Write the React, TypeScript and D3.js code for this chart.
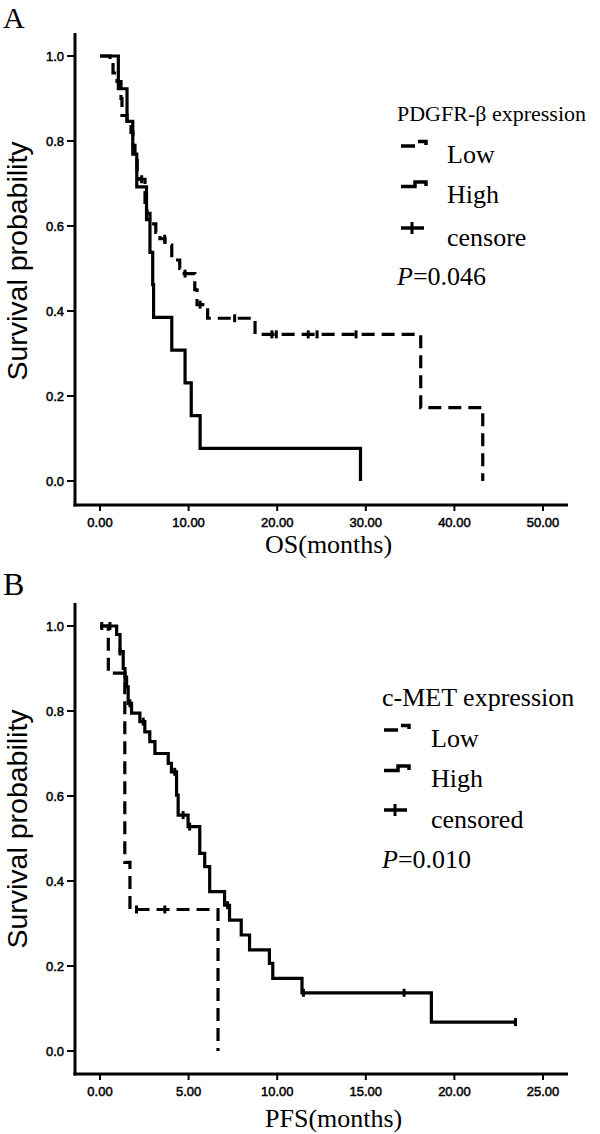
import React from "react";
import * as d3 from "d3";

// ---------- DATA ----------
const xTicksA = [0, 10, 20, 30, 40, 50];
const xTicksB = [0, 5, 10, 15, 20, 25];
const yTicks = [0, 0.2, 0.4, 0.6, 0.8, 1.0];

// Panel A: OS by PDGFR-β expression. [time (months), survival after event]
const osLowSteps: [number, number][] = [
  [0, 1], [1.13, 0.98], [1.47, 0.96], [1.92, 0.94], [2.37, 0.9], [2.48, 0.86],
  [3.05, 0.84], [3.5, 0.82], [3.72, 0.79], [3.95, 0.77], [4.2, 0.73], [4.4, 0.71],
  [5.08, 0.65], [5.3, 0.63], [5.64, 0.605], [6.3, 0.585], [6.77, 0.57], [7.34, 0.555],
  [8.1, 0.52], [9.0, 0.5], [9.5, 0.488], [10.7, 0.45], [10.95, 0.415], [12.15, 0.383],
  [17.5, 0.345], [36.2, 0.1725], [43.2, 0],
];
const osLowCensored = [4.7, 7.3, 9.6, 11.3, 15.2, 19.4, 19.9, 23.5, 24.5, 28.9];
const osHighSteps: [number, number][] = [
  [0, 1], [2.07, 0.923], [3.05, 0.846], [3.7, 0.769], [4.15, 0.692], [5.25, 0.615],
  [5.64, 0.538], [5.95, 0.462], [6.05, 0.385], [8.1, 0.308], [9.6, 0.231],
  [10.3, 0.154], [11.3, 0.077], [29.4, 0],
];
const osHighCensored: number[] = [];

// Panel B: PFS by c-MET expression
const pfsLowSteps: [number, number][] = [
  [0, 1], [0.47, 0.889], [1.4, 0.444], [1.69, 0.333], [6.66, 0],
];
const pfsLowCensored = [2.06, 3.66];
const pfsHighSteps: [number, number][] = [
  [0, 1], [0.94, 0.98], [1.13, 0.94], [1.31, 0.9], [1.41, 0.88], [1.5, 0.857],
  [1.59, 0.818], [1.78, 0.795], [2.25, 0.775], [2.53, 0.751], [2.81, 0.728],
  [3.1, 0.7], [3.85, 0.677], [4.03, 0.657], [4.32, 0.602], [4.41, 0.555],
  [4.97, 0.528], [5.63, 0.465], [5.91, 0.434], [6.19, 0.375], [7.03, 0.343],
  [7.31, 0.308], [7.97, 0.273], [8.44, 0.238], [9.56, 0.206], [9.75, 0.171],
  [11.4, 0.137], [18.7, 0.068], [23.45, 0.068],
];
const pfsHighCensored = [0.1, 0.56, 1.13, 1.41, 1.69, 2.44, 4.22, 4.69, 5.06, 7.2, 11.48, 17.16, 23.45];

const legendA = { title: "PDGFR-β expression", low: "Low", high: "High", cens: "censore", p: "=0.046" };
const legendB = { title: "c-MET expression", low: "Low", high: "High", cens: "censored", p: "=0.010" };

// ---------- HELPERS ----------
const SANS = "'Liberation Sans', Arial, sans-serif";
const SERIF = "'Liberation Serif', 'Times New Roman', serif";

function survAt(steps: [number, number][], t: number) {
  let s = steps[0][1];
  for (const [tt, ss] of steps) {
    if (tt <= t + 1e-9) s = ss;
    else break;
  }
  return s;
}

type PanelProps = {
  label: string;
  labelY: number;
  labelSize: number;
  top: number;
  y1: number;
  y0: number;
  axisY: number;
  xMax: number;
  xTicks: number[];
  xTitle: string;
  xTitleY: number;
  yTitleY: number;
  low: [number, number][];
  lowC: number[];
  high: [number, number][];
  highC: number[];
  legend: typeof legendA;
  titleSize: number;
  lg: { x: number; tx: number; title: number; low: number; high: number; cens: number; p: number; symX: number };
};

function Panel(p: PanelProps) {
  const x = d3.scaleLinear().domain([0, p.xMax]).range([100, 543]);
  const y = d3.scaleLinear().domain([0, 1]).range([p.y0, p.y1]);
  const line = d3
    .line<[number, number]>()
    .x((d) => x(d[0]))
    .y((d) => y(d[1]))
    .curve(d3.curveStepAfter);
  const axisX = 75;
  const sw = 3.2;
  const censorMarks = (steps: [number, number][], cs: number[], key: string) =>
    cs.map((t, i) => {
      const cx = x(t);
      const cy = y(survAt(steps, t));
      return <line key={key + i} x1={cx} x2={cx} y1={cy - 4} y2={cy + 4} stroke="#000" strokeWidth={3} />;
    });
  const sx = p.lg.symX;
  return (
    <g>
      <text x={3} y={p.labelY} fontFamily={SERIF} fontSize={p.labelSize}>{p.label}</text>
      {/* axes */}
      <line x1={axisX} x2={axisX} y1={p.top} y2={p.axisY + 1.5} stroke="#000" strokeWidth={3} />
      <line x1={axisX - 1.5} x2={568} y1={p.axisY} y2={p.axisY} stroke="#000" strokeWidth={3} />
      {yTicks.map((t) => (
        <g key={"yt" + t}>
          <line x1={axisX - 8} x2={axisX} y1={y(t)} y2={y(t)} stroke="#000" strokeWidth={2} />
          <text x={64} y={y(t) + 4.5} textAnchor="end" fontFamily={SANS} fontSize={13} stroke="#000" strokeWidth={0.5}>
            {t.toFixed(1)}
          </text>
        </g>
      ))}
      {p.xTicks.map((t) => (
        <g key={"xt" + t}>
          <line x1={x(t)} x2={x(t)} y1={p.axisY} y2={p.axisY + 6} stroke="#000" strokeWidth={2} />
          <text x={x(t)} y={p.axisY + 22} textAnchor="middle" fontFamily={SANS} fontSize={13} stroke="#000" strokeWidth={0.5}>
            {t.toFixed(2)}
          </text>
        </g>
      ))}
      <text x={265} y={p.xTitleY} fontFamily={SERIF} fontSize={26}>{p.xTitle}</text>
      <text
        transform={`translate(27,${p.yTitleY}) rotate(-90)`}
        textAnchor="middle"
        fontFamily={SANS}
        fontSize={28.5}
      >
        Survival probability
      </text>
      {/* curves */}
      <path d={line(p.high) || ""} fill="none" stroke="#000" strokeWidth={sw} />
      <path d={line(p.low) || ""} fill="none" stroke="#000" strokeWidth={sw} strokeDasharray="13,7" />
      {censorMarks(p.high, p.highC, "hc")}
      {censorMarks(p.low, p.lowC, "lc")}
      {/* legend */}
      <text x={p.lg.x} y={p.lg.title} fontFamily={SERIF} fontSize={p.titleSize}>{p.legend.title}</text>
      <g stroke="#000" strokeWidth={3.5} fill="none">
        <line x1={sx} x2={sx + 14} y1={p.lg.low - 17} y2={p.lg.low - 17} />
        <path d={`M${sx + 17},${p.lg.low - 21.5} H${sx + 25} V${p.lg.low - 18}`} />
        <path d={`M${sx},${p.lg.high - 16.5} H${sx + 14} V${p.lg.high - 21} H${sx + 25} V${p.lg.high - 17}`} />
        <line x1={sx} x2={sx + 23} y1={p.lg.cens - 18} y2={p.lg.cens - 18} />
        <line x1={sx + 11} x2={sx + 11} y1={p.lg.cens - 24} y2={p.lg.cens - 12} strokeWidth={3} />
      </g>
      <text x={p.lg.tx} y={p.lg.low} fontFamily={SERIF} fontSize={26}>{p.legend.low}</text>
      <text x={p.lg.tx} y={p.lg.high} fontFamily={SERIF} fontSize={26}>{p.legend.high}</text>
      <text x={p.lg.tx} y={p.lg.cens} fontFamily={SERIF} fontSize={26}>{p.legend.cens}</text>
      <text x={p.lg.x} y={p.lg.p} fontFamily={SERIF} fontSize={26}>
        <tspan fontStyle="italic">P</tspan>
        {p.legend.p}
      </text>
    </g>
  );
}

export default function App() {
  return (
    <svg width={600} height={1134} style={{ position: "absolute", left: 0, top: 0, background: "#fff" }}>
      <rect width={600} height={1134} fill="#fff" />
      <Panel
        label="A" labelY={28} labelSize={30}
        top={33} y1={56} y0={481} axisY={505}
        xMax={50} xTicks={xTicksA} xTitle="OS(months)" xTitleY={553} yTitleY={261}
        low={osLowSteps} lowC={osLowCensored} high={osHighSteps} highC={osHighCensored}
        legend={legendA} titleSize={22}
        lg={{ x: 397, tx: 447, title: 121, low: 163, high: 203, cens: 246, p: 285, symX: 401 }}
      />
      <Panel
        label="B" labelY={595} labelSize={32}
        top={603} y1={626} y0={1051} axisY={1074}
        xMax={25} xTicks={xTicksB} xTitle="PFS(months)" xTitleY={1127} yTitleY={829}
        low={pfsLowSteps} lowC={pfsLowCensored} high={pfsHighSteps} highC={pfsHighCensored}
        legend={legendB} titleSize={26}
        lg={{ x: 382, tx: 431, title: 706, low: 747, high: 787, cens: 828, p: 868, symX: 384 }}
      />
    </svg>
  );
}
